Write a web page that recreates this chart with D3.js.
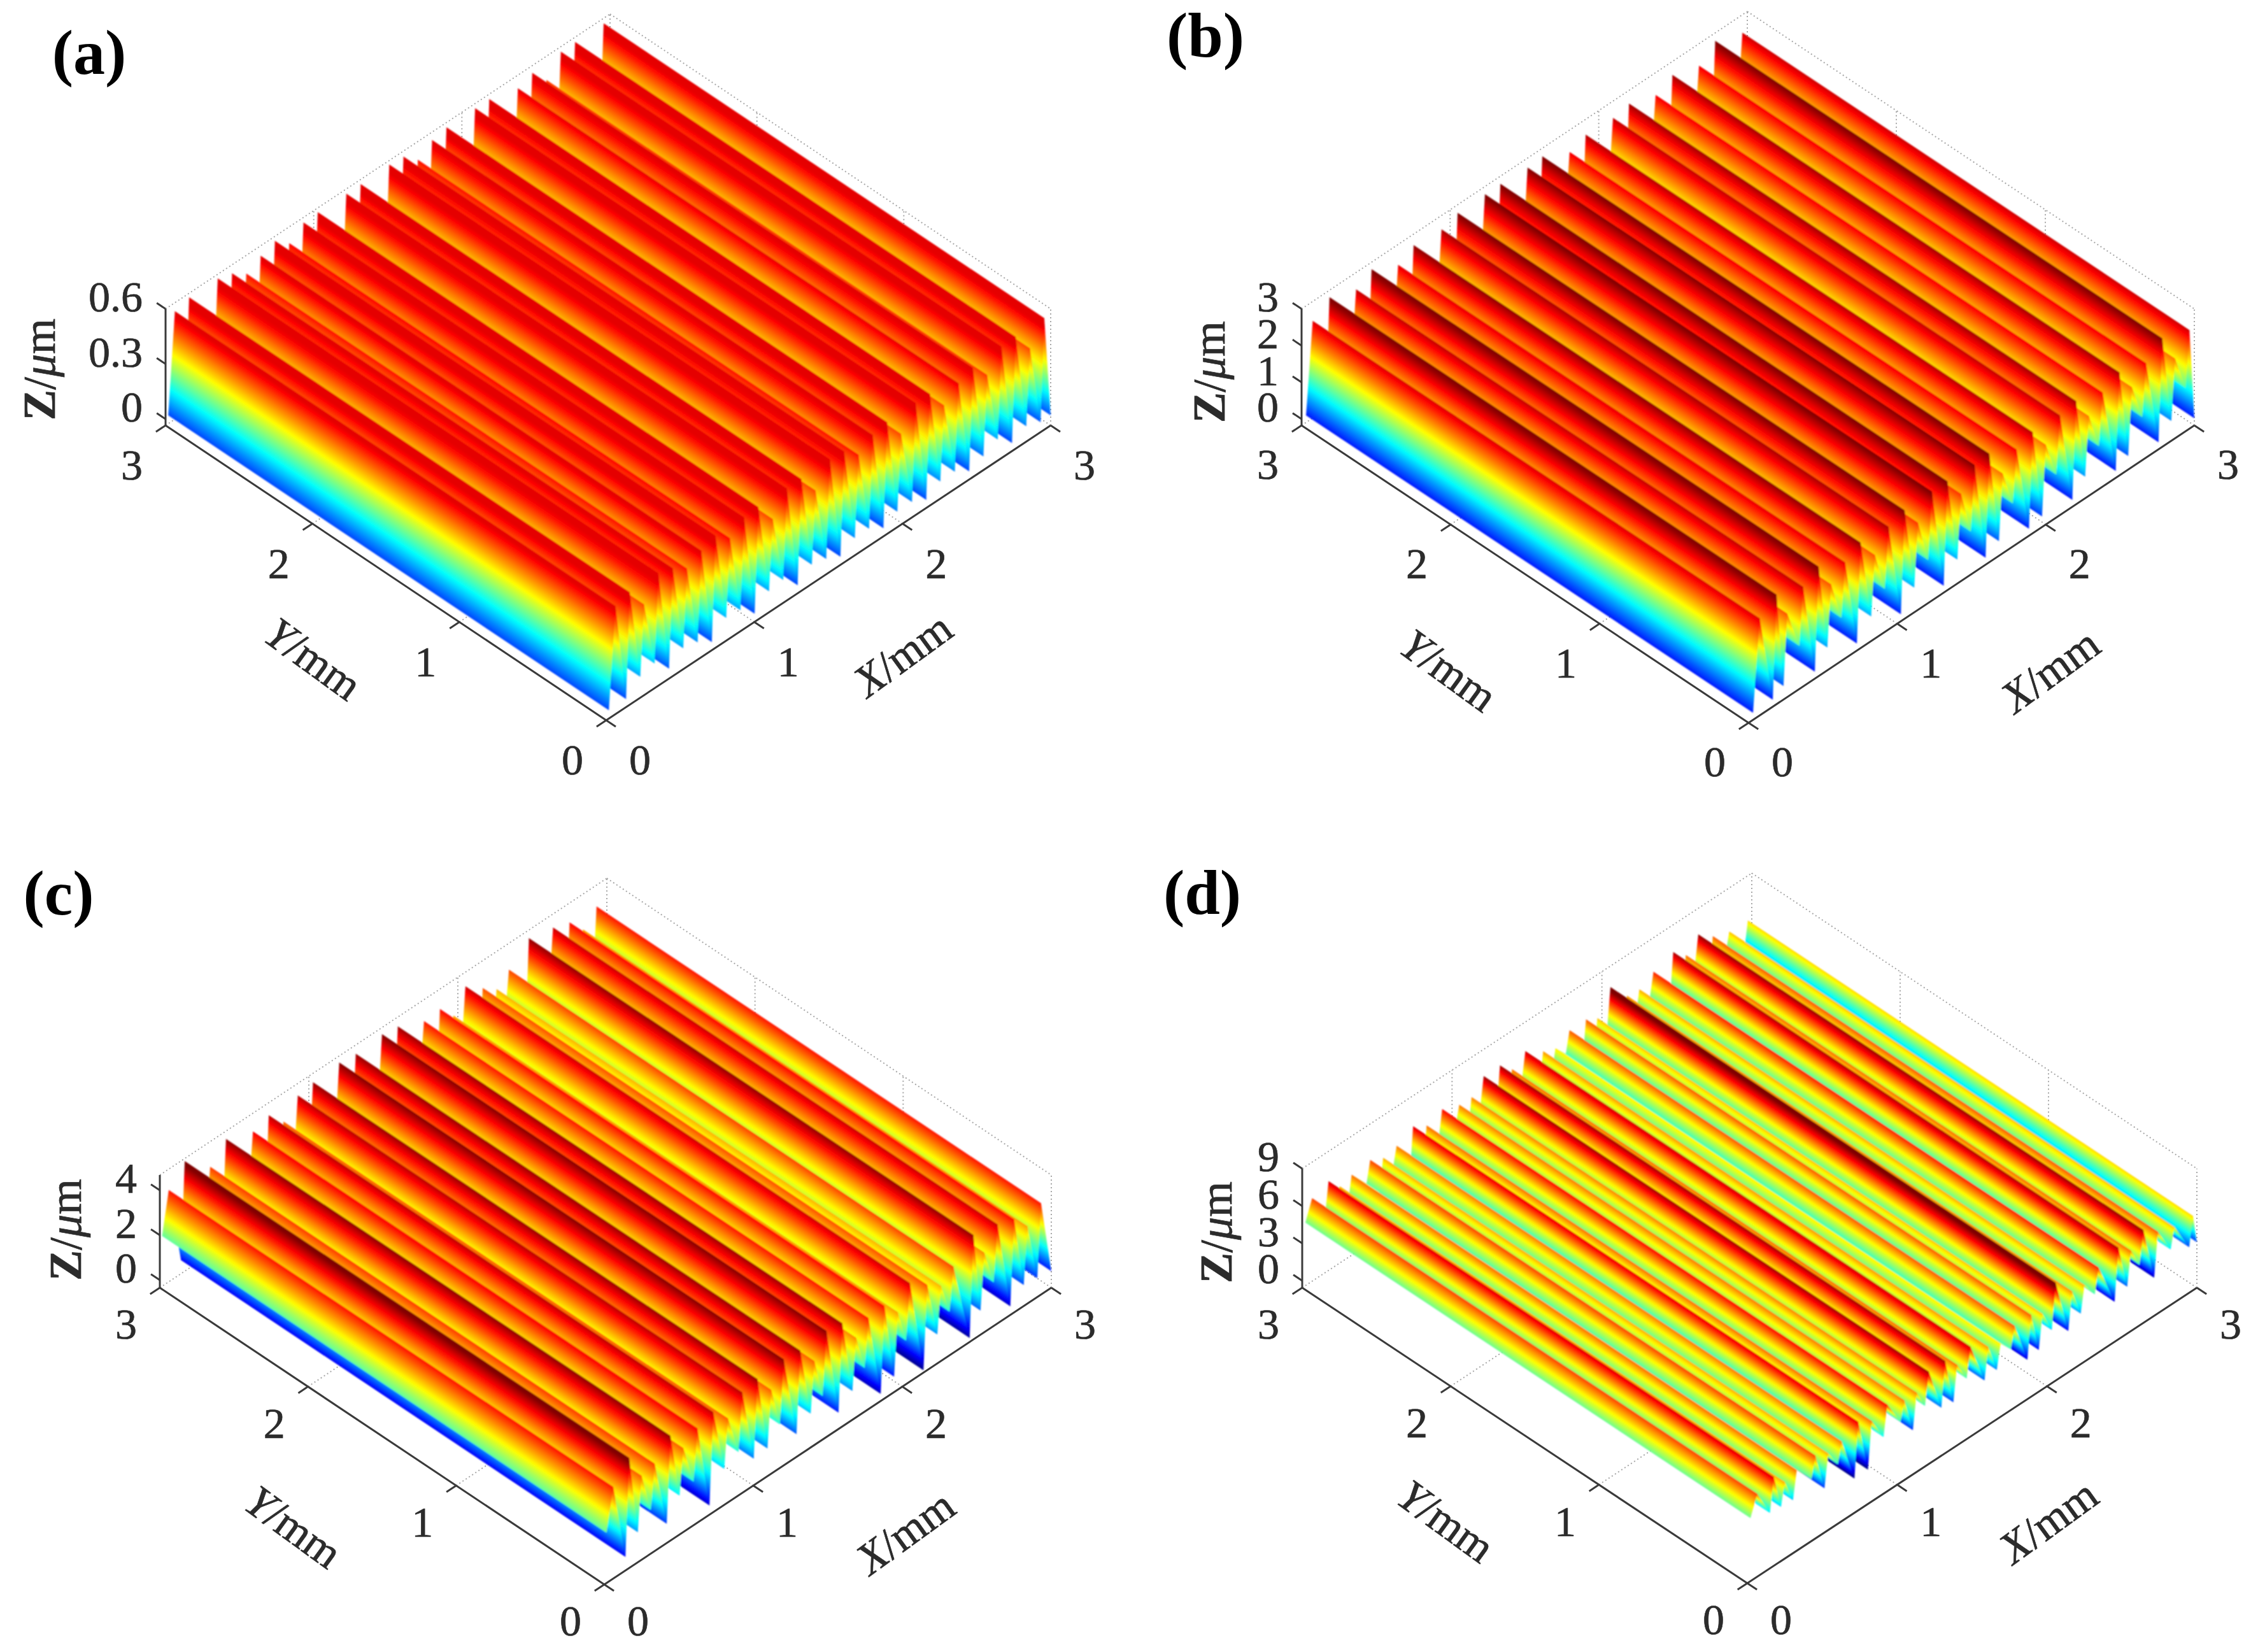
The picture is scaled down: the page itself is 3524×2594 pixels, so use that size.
<!DOCTYPE html>
<html>
<head>
<meta charset="utf-8">
<script src="https://d3js.org/d3.v7.min.js"></script>
<style>
html, body { margin: 0; background: #fff; }
svg { display: block; }
text { font-family: "Liberation Serif", serif; fill: #2b2b2b; stroke: #2b2b2b; stroke-width: .7; }
</style>
</head>
<body>
<script>
const width = 3524;
const height = 2594;

// peak position (mm), peak height and the valley just before each peak (um), read per panel
const aPeakX = [.063,.159,.255,.352,.449,.545,.642,.738,.835,.931,1.027,1.124,1.22,1.317,1.413,1.51,1.606,1.703,1.799,1.896,1.99,2.089,2.185,2.28,2.378,2.475,2.571,2.668,2.764,2.86,2.957];
const aPeakZ = [.553,.577,.46,.577,.553,.50,.545,.575,.51,.572,.577,.46,.574,.574,.46,.577,.569,.50,.556,.574,.46,.574,.572,.46,.528,.56,.47,.572,.574,.46,.572];
const aValleyZ = [.01,.01,.08,.1,.02,.08,.06,.01,.09,.08,.01,.08,.09,.01,.07,.05,.01,.06,.06,.01,.05,.05,.01,.06,.06,.01,.04,.08,.01,.05,.02];

const bPeakX = [.075,.188,.26,.367,.471,.555,.65,.754,.85,.942,1.05,1.14,1.234,1.338,1.43,1.521,1.62,1.71,1.804,1.912,2.0,2.096,2.204,2.29,2.383,2.496,2.58,2.675,2.784,2.87,2.967];
const bPeakZ = [2.47,2.81,2.1,2.54,2.81,2.1,2.44,2.70,2.1,2.62,2.78,2.2,2.79,2.79,2.2,2.74,2.78,2.0,2.40,2.58,2.0,2.54,2.64,2.0,2.39,2.63,2.0,2.40,2.78,2.0,2.51];
const bValleyZ = [.02,.02,.2,1.0,.02,.45,1.0,.02,.5,1.0,.02,.5,1.0,.02,.48,1.0,.02,.23,1.0,.02,.12,1.0,.02,.42,1.0,.02,.2,1.0,.02,.37,1.0];

const cPeakX = [.06,.167,.25,.338,.444,.53,.625,.731,.83,.926,1.028,1.12,1.204,1.315,1.41,1.491,1.597,1.69,1.773,1.88,1.97,2.051,2.167,2.26,2.343,2.477,2.55,2.639,2.75,2.84,2.931];
const cPeakZ = [3.74,4.56,3.4,3.55,4.33,3.4,3.86,4.12,3.4,4.14,4.28,3.4,4.38,4.28,3.4,4.38,4.26,3.2,3.72,3.79,3.1,4.05,3.46,3.0,3.5,4.31,3.2,4.07,3.81,3.1,3.72];
const cValleyZ = [1.9,.27,1.0,1.6,.52,1.4,1.6,.07,1.27,1.6,.85,.9,1.6,.68,1.17,1.6,.39,.95,1.6,-.02,.35,1.6,-.23,.95,1.6,-.16,.74,1.6,.05,.6,.5];

const dPeakX = [.066,.176,.25,.33,.454,.54,.63,.74,.83,.934,1.048,1.13,1.211,1.32,1.4,1.489,1.608,1.69,1.784,1.894,1.97,2.057,2.167,2.25,2.344,2.476,2.56,2.643,2.74,2.85,2.974];
const dPeakZ = [6.1,6.6,5.6,5.9,6.1,5.6,5.84,6.55,5.9,6.39,5.84,5.8,6.85,6.85,5.9,6.66,5.7,5.3,6.0,6.0,5.5,7.3,5.75,5.6,6.26,6.8,5.9,6.9,6.0,5.5,5.4];
const dValleyZ = [4.5,3.9,3.8,3.7,4.4,3.0,4.2,2.2,2.2,4.0,4.3,3.0,4.3,3.3,3.1,4.3,3.2,3.4,4.3,2.6,2.8,3.7,2.76,3.5,4.3,2.66,3.2,4.3,2.5,3.9,3.1];

const planTicks = [0, 1, 2, 3];
const aZTicks = [0, 0.3, 0.6];
const bZTicks = [0, 1, 2, 3];
const cZTicks = [0, 2, 4];
const dZTicks = [0, 3, 6, 9];

const jet = d3.scaleLinear()
    .domain([0, .125, .375, .625, .875, 1])
    .range(["#00007f", "#0000ff", "#00ffff", "#ffff00", "#ff0000", "#7f0000"])
    .clamp(true);

const panels = [
    { id: "a", peakX: aPeakX, peakZ: aPeakZ, valleyZ: aValleyZ, endZ: .02, zTicks: aZTicks,
      front: [952, 1131], left: [260, 668], right: [1650, 668], zPx: [10, 183], zTop: .6, colour: [-.13, .6], colourMax: .9,
      tag: [140, 86], yTitle: [492, 1035], xTitle: [1418, 1028], zTitle: [62, 580], tickDy: 63 },
    { id: "b", peakX: bPeakX, peakZ: bPeakZ, valleyZ: bValleyZ, endZ: .02, zTicks: bZTicks,
      front: [2746, 1135], left: [2044, 668], right: [3446, 668], zPx: [10, 183], zTop: 3, colour: [-.45, 2.75], colourMax: 1,
      tag: [1893, 59], yTitle: [2275, 1053], xTitle: [3220, 1053], zTitle: [1899, 584], tickDy: 62 },
    { id: "c", peakX: cPeakX, peakZ: cPeakZ, valleyZ: cValleyZ, endZ: .4, zTicks: cZTicks,
      front: [949, 2488], left: [251, 2022], right: [1651, 2022], zPx: [12, 153], zTop: 4.68, colour: [-.3, 4.4], colourMax: 1,
      tag: [92, 1406], yTitle: [461, 2398], xTitle: [1422, 2406], zTitle: [103, 1931], tickDy: 58 },
    { id: "d", peakX: dPeakX, peakZ: dPeakZ, valleyZ: dValleyZ, endZ: 3.1, zTicks: dZTicks,
      front: [2744, 2486], left: [2045, 2022], right: [3450, 2022], zPx: [11, 187], zTop: 9, colour: [2.2, 7.0], colourMax: 1,
      tag: [1888, 1405], yTitle: [2271, 2389], xTitle: [3217, 2389], zTitle: [1910, 1935], tickDy: 58 }
];

const svg = d3.select("body").append("svg")
    .attr("width", width)
    .attr("height", height);
const defs = svg.append("defs");
defs.append("filter").attr("id", "soft")
    .attr("filterUnits", "userSpaceOnUse")
    .attr("x", 0).attr("y", 0).attr("width", width).attr("height", height)
    .append("feGaussianBlur").attr("stdDeviation", 1);

panels.forEach(drawPanel);

function drawPanel(p) {
    const g = svg.append("g").attr("id", "panel-" + p.id);

    // oblique plot: x and y both shift the point on screen, z only lifts it
    const xDx = d3.scaleLinear().domain([0, 3]).range([0, p.right[0] - p.front[0]]);
    const xDy = d3.scaleLinear().domain([0, 3]).range([0, p.right[1] - p.front[1]]);
    const yDx = d3.scaleLinear().domain([0, 3]).range([0, p.left[0] - p.front[0]]);
    const yDy = d3.scaleLinear().domain([0, 3]).range([0, p.left[1] - p.front[1]]);
    const zLift = d3.scaleLinear().domain([0, p.zTicks[p.zTicks.length - 1]]).range(p.zPx);
    const zColour = d3.scaleLinear().domain(p.colour).range([0, 1]);

    const project = (x, y, z) => [
        p.front[0] + xDx(x) + yDx(y),
        p.front[1] + xDy(x) + yDy(y) - (z === null ? 0 : zLift(z))
    ];
    const floor = (x, y) => project(x, y, null);

    drawGrid(g, project, floor, p);

    // surface profile: valley then peak for each ridge, extruded along y
    const profile = [];
    p.peakX.forEach((x, i) => {
        profile.push({ x: Math.max(0.01, x - (i === 0 ? .045 : .025)), z: p.valleyZ[i] });
        profile.push({ x: x, z: p.peakZ[i] });
    });
    profile.push({ x: 3, z: p.endZ });

    // back to front, so nearer ridges cover the ones behind
    const segments = d3.pairs(profile).reverse();
    const dir = unit([p.left[0] - p.front[0], p.left[1] - p.front[1]]);
    const normal = [-dir[1], dir[0]];

    g.append("g").attr("filter", "url(#soft)").selectAll("polygon")
        .data(segments)
        .join("polygon")
        .attr("points", ([s, t]) => [project(s.x, 0, s.z), project(t.x, 0, t.z), project(t.x, 3, t.z), project(s.x, 3, s.z)].join(" "))
        .attr("fill", ([s, t], i) => {
            const id = "grad-" + p.id + "-" + i;
            const a = project(s.x, 0, s.z);
            const b = project(t.x, 0, t.z);
            const along = (b[0] - a[0]) * normal[0] + (b[1] - a[1]) * normal[1];
            const grad = defs.append("linearGradient")
                .attr("id", id)
                .attr("gradientUnits", "userSpaceOnUse")
                .attr("x1", a[0]).attr("y1", a[1])
                .attr("x2", a[0] + normal[0] * along).attr("y2", a[1] + normal[1] * along);
            d3.range(0, 1.001, 1 / 24).forEach(o => {
                grad.append("stop")
                    .attr("offset", o)
                    .attr("stop-color", jet(Math.min(p.colourMax, zColour(s.z + (t.z - s.z) * o))));
            });
            return "url(#" + id + ")";
        })
        .attr("stroke", "none");

    drawAxes(g, project, floor, p);
    drawLabels(g, project, floor, p);
}

function unit(v) {
    const len = Math.hypot(v[0], v[1]);
    return [v[0] / len, v[1] / len];
}

function drawGrid(g, project, floor, p) {
    const lines = [];
    const top = p.zTop;
    [1, 2].forEach(t => {
        lines.push([floor(t, 0), floor(t, 3)]);
        lines.push([floor(0, t), floor(3, t)]);
        lines.push([floor(t, 3), project(t, 3, top)]);
        lines.push([floor(3, t), project(3, t, top)]);
    });
    lines.push([project(0, 3, top), project(3, 3, top)]);
    lines.push([project(3, 3, top), project(3, 0, top)]);
    lines.push([floor(3, 3), project(3, 3, top)]);
    lines.push([floor(3, 0), project(3, 0, top)]);
    lines.push([floor(0, 3), floor(3, 3)]);
    lines.push([floor(3, 0), floor(3, 3)]);

    g.append("g").selectAll("line")
        .data(lines)
        .join("line")
        .attr("x1", d => d[0][0]).attr("y1", d => d[0][1])
        .attr("x2", d => d[1][0]).attr("y2", d => d[1][1])
        .attr("stroke", "#a8a8a8")
        .attr("stroke-width", 2)
        .attr("stroke-dasharray", "2 4");
}

function drawAxes(g, project, floor, p) {
    const lines = [
        [floor(0, 0), floor(3, 0)],
        [floor(0, 0), floor(0, 3)],
        [floor(0, 3), project(0, 3, p.zTop)]
    ];
    planTicks.forEach(t => {
        lines.push([floor(t, 0), floor(t, -.065)]);
        lines.push([floor(0, t), floor(-.065, t)]);
    });
    p.zTicks.forEach(z => {
        lines.push([project(0, 3, z), project(0, 3.06, z)]);
    });

    g.append("g").selectAll("line")
        .data(lines)
        .join("line")
        .attr("x1", d => d[0][0]).attr("y1", d => d[0][1])
        .attr("x2", d => d[1][0]).attr("y2", d => d[1][1])
        .attr("stroke", "#3a3a3a")
        .attr("stroke-width", 3);
}

function drawLabels(g, project, floor, p) {
    const fs = 68;
    const labels = g.append("g").attr("font-size", fs);

    planTicks.forEach(t => {
        const xp = floor(t, 0);
        labels.append("text").attr("x", xp[0] + 53).attr("y", xp[1] + p.tickDy + fs * .33)
            .attr("text-anchor", "middle").text(t);
        const yp = floor(0, t);
        labels.append("text").attr("x", yp[0] - 53).attr("y", yp[1] + p.tickDy + fs * .33)
            .attr("text-anchor", "middle").text(t);
    });

    p.zTicks.forEach(z => {
        const zp = project(0, 3, z);
        labels.append("text").attr("x", p.left[0] - 36).attr("y", zp[1] - 18 + fs * .33)
            .attr("text-anchor", "end").text(z);
    });

    axisTitle(g, p.yTitle, 36, "Y", "/mm");
    axisTitle(g, p.xTitle, -36, "X", "/mm");

    const z = g.append("text")
        .attr("transform", "translate(" + p.zTitle + ") rotate(-90)")
        .attr("text-anchor", "middle")
        .attr("dy", ".33em")
        .attr("font-size", 72);
    z.append("tspan").attr("font-weight", "bold").text("Z");
    z.append("tspan").text("/");
    z.append("tspan").attr("font-style", "italic").text("μ");
    z.append("tspan").text("m");

    g.append("text")
        .attr("x", p.tag[0]).attr("y", p.tag[1])
        .attr("dy", ".3em")
        .attr("text-anchor", "middle")
        .attr("font-size", 100)
        .attr("font-weight", "bold")
        .style("fill", "#000")
        .style("stroke", "none")
        .text("(" + p.id + ")");
}

function axisTitle(g, pos, angle, letter, rest) {
    const t = g.append("text")
        .attr("transform", "translate(" + pos + ") rotate(" + angle + ")")
        .attr("text-anchor", "middle")
        .attr("dy", ".33em")
        .attr("font-size", 70);
    t.append("tspan").attr("font-style", "italic").text(letter);
    t.append("tspan").text(rest);
}
</script>
</body>
</html>
